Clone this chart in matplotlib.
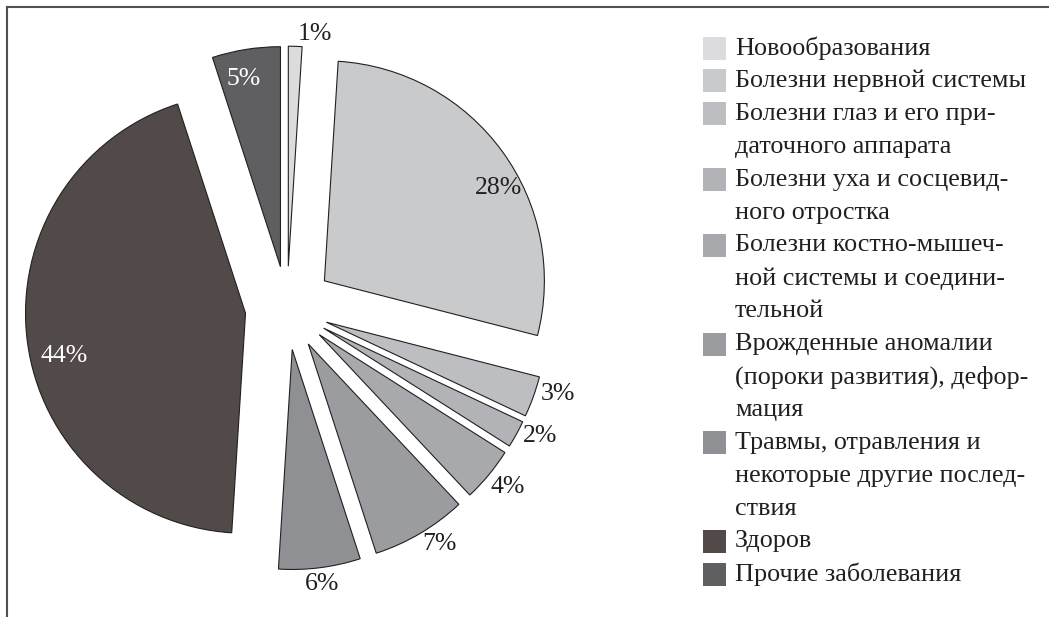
import numpy as np
import matplotlib.pyplot as plt
from matplotlib.lines import Line2D
from matplotlib.patches import Rectangle

plt.rcParams['font.family'] = ['Liberation Serif', 'DejaVu Serif']

# данные диаграммы
categories = [
    "Новообразования",
    "Болезни нервной системы",
    "Болезни глаз и его при-\nдаточного аппарата",
    "Болезни уха и сосцевид-\nного отростка",
    "Болезни костно-мышеч-\nной системы и соедини-\nтельной",
    "Врожденные аномалии\n(пороки развития), дефор-\nмация",
    "Травмы, отравления и\nнекоторые другие послед-\nствия",
    "Здоров",
    "Прочие заболевания",
]
values = [1, 28, 3, 2, 4, 7, 6, 44, 5]
colors = ['#dcdcde', '#c9cacc', '#bdbec1', '#b2b3b6', '#a8a9ac',
          '#9b9ca0', '#8f9094', '#524a48', '#5f5e61']

# оформление подписей: расстояние, сдвиг угла, выравнивание, цвет
explode = [0.19, 0.21, 0.19, 0.19, 0.19, 0.19, 0.19, 0.19, 0.19]
lbl_dist = [1.055, 0.895, 1.03, 1.03, 1.04, 1.045, 1.075, 0.845, 0.87]
lbl_shift = [-0.6, -8, 1.2, 0.5, -2, -1, 0, 6, 2]
lbl_ha = ['left', 'center', 'left', 'left', 'left', 'left', 'center', 'center', 'center']
lbl_color = ['#231f20'] * 7 + ['white', 'white']

W, H = 1049, 617
cx, cy, R = 287, 308, 220  # центр и радиус круга в пикселях

fig = plt.figure(figsize=(W / 100, H / 100), dpi=100)
ax = fig.add_axes([0, 0, 1, 1])

wedges, _ = ax.pie(values, explode=explode, colors=colors, startangle=90,
                   counterclock=False, radius=1,
                   wedgeprops=dict(edgecolor='#231f20', linewidth=0.8))

ax.set_xlim(-cx / R, (W - cx) / R)
ax.set_ylim(-(H - cy) / R, cy / R)
ax.set_aspect('equal')
ax.axis('off')

for i, w in enumerate(wedges):
    ang = np.radians((w.theta1 + w.theta2) / 2 + lbl_shift[i])
    x = w.center[0] + lbl_dist[i] * w.r * np.cos(ang)
    y = w.center[1] + lbl_dist[i] * w.r * np.sin(ang)
    ax.text(x, y, f"{values[i]}%", ha=lbl_ha[i], va='center',
            fontsize=18.5, color=lbl_color[i])

# легенда, построчно
line_y0, line_step = 48, 32.9
k = 0
for i, name in enumerate(categories):
    y = line_y0 + k * line_step
    fig.add_artist(Rectangle((703 / W, 1 - (y + 11.5) / H), 23 / W, 23 / H,
                             transform=fig.transFigure, facecolor=colors[i],
                             edgecolor='none'))
    for line in name.split("\n"):
        y = line_y0 + k * line_step
        fig.text(735 / W, 1 - y / H, line, ha='left', va='center',
                 fontsize=18.8, color='#231f20')
        k += 1

# рамка сверху и слева
fig.add_artist(Line2D([7 / W, 1], [1 - 7 / H, 1 - 7 / H], transform=fig.transFigure,
                      color='#505050', lw=1.5))
fig.add_artist(Line2D([7 / W, 7 / W], [0, 1 - 7 / H], transform=fig.transFigure,
                      color='#505050', lw=1.5))

fig.savefig('out.png', dpi=100)
